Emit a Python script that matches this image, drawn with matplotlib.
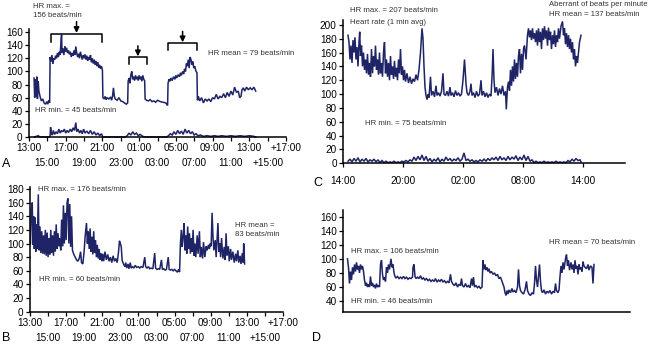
import numpy as np
import matplotlib
matplotlib.use("Agg")
import matplotlib.pyplot as plt

plt.rcParams['font.family'] = ['Liberation Sans', 'DejaVu Sans']

# hours after the first tick; (time, beats/min)
a_hr = [(0.55, 90), (0.62, 60), (0.7, 88), (0.78, 62), (0.85, 92), (0.92, 58), (1.0, 85), (1.08, 70), (1.2, 62),
        (1.35, 55), (1.5, 58), (1.65, 52), (1.8, 50), (1.95, 54), (2.05, 50), (2.15, 56), (2.25, 52),
        (2.3, 122), (2.4, 115), (2.5, 125), (2.6, 112), (2.7, 120), (2.8, 118), (2.9, 124), (3.0, 120),
        (3.1, 128), (3.2, 122), (3.3, 130), (3.4, 125), (3.5, 150), (3.55, 156), (3.6, 128), (3.7, 135),
        (3.8, 125), (3.9, 138), (4.0, 130), (4.1, 136), (4.2, 128), (4.3, 132), (4.4, 126), (4.5, 130),
        (4.6, 122), (4.7, 128), (4.8, 124), (4.9, 132), (5.0, 125), (5.1, 138), (5.2, 128), (5.3, 122),
        (5.4, 127), (5.5, 120), (5.6, 130), (5.7, 124), (5.8, 118), (5.9, 125), (6.0, 120), (6.1, 126),
        (6.2, 118), (6.3, 124), (6.4, 116), (6.5, 122), (6.6, 118), (6.7, 125), (6.8, 114), (6.9, 120),
        (7.0, 112), (7.1, 118), (7.2, 110), (7.3, 116), (7.4, 108), (7.5, 114), (7.6, 106), (7.7, 110),
        (7.8, 104), (7.9, 108), (8.0, 102), (8.05, 60), (8.2, 58), (8.3, 62), (8.4, 57), (8.5, 60), (8.7, 58),
        (8.9, 61), (9.0, 56), (9.1, 62), (9.2, 75), (9.3, 62), (9.4, 58), (9.6, 56), (9.8, 60), (10.0, 55),
        (10.2, 54), (10.4, 52), (10.6, 50), (10.75, 52), (10.8, 85), (10.9, 90), (11.0, 82), (11.1, 95),
        (11.2, 100), (11.3, 88), (11.4, 92), (11.5, 86), (11.6, 94), (11.7, 88), (11.8, 92), (11.9, 86),
        (12.0, 94), (12.1, 88), (12.2, 92), (12.3, 85), (12.4, 94), (12.5, 88), (12.6, 86), (12.65, 58),
        (12.8, 56), (13.0, 55), (13.2, 57), (13.4, 54), (13.6, 55), (13.8, 53), (14.0, 56), (14.3, 54),
        (14.6, 53), (14.9, 52), (15.1, 48), (15.15, 82), (15.25, 88), (15.35, 85), (15.45, 90), (15.6, 86),
        (15.75, 92), (15.9, 88), (16.0, 94), (16.1, 90), (16.25, 95), (16.4, 92), (16.5, 98), (16.6, 94),
        (16.75, 100), (16.85, 96), (16.95, 104), (17.05, 100), (17.15, 112), (17.25, 108), (17.35, 118),
        (17.45, 105), (17.55, 122), (17.65, 118), (17.75, 110), (17.85, 115), (17.95, 105), (18.05, 108),
        (18.2, 100), (18.3, 98), (18.35, 56), (18.45, 62), (18.6, 55), (18.8, 60), (19.0, 52), (19.2, 58),
        (19.4, 55), (19.6, 58), (19.8, 54), (20.0, 60), (20.2, 58), (20.4, 65), (20.6, 58), (20.8, 62),
        (21.0, 60), (21.2, 66), (21.4, 60), (21.6, 68), (21.8, 62), (22.0, 70), (22.2, 64), (22.4, 76),
        (22.6, 68), (22.8, 70), (22.95, 60), (23.1, 62), (23.2, 72), (23.35, 75), (23.5, 70), (23.7, 76),
        (23.9, 72), (24.1, 75), (24.3, 72), (24.5, 76), (24.7, 70)]

a_aberrant = [(0.6, 0), (1.0, 2), (1.2, 0), (2.2, 0), (2.3, 2), (2.35, 15), (2.45, 5), (2.55, 3), (2.65, 10),
              (2.8, 4), (2.95, 8), (3.1, 5), (3.25, 12), (3.4, 6), (3.55, 10), (3.7, 8), (3.85, 12), (4.0, 6),
              (4.15, 10), (4.3, 7), (4.5, 12), (4.65, 8), (4.8, 14), (4.95, 10), (5.1, 22), (5.2, 8), (5.35, 12),
              (5.5, 6), (5.65, 10), (5.8, 5), (5.95, 12), (6.1, 6), (6.3, 9), (6.5, 5), (6.7, 10), (6.9, 4),
              (7.1, 8), (7.3, 3), (7.5, 6), (7.7, 2), (7.9, 5), (8.05, 0), (10.5, 0), (10.7, 2), (10.9, 6),
              (11.1, 3), (11.3, 8), (11.5, 4), (11.7, 6), (11.9, 2), (12.1, 4), (12.4, 1), (12.6, 0), (15.0, 0),
              (15.2, 2), (15.4, 5), (15.6, 3), (15.8, 8), (16.0, 4), (16.2, 10), (16.4, 5), (16.6, 9), (16.8, 4),
              (17.0, 12), (17.2, 6), (17.4, 10), (17.6, 5), (17.8, 8), (18.0, 3), (18.2, 5), (18.4, 2), (18.7, 3),
              (19.0, 1), (19.4, 2), (19.8, 1), (20.2, 2), (20.6, 1), (21.0, 2), (21.5, 1), (22.0, 2), (22.5, 1),
              (23.0, 2), (23.5, 1), (24.0, 2), (24.5, 1), (24.7, 0)]

b_hr = [(0.05, 100), (0.15, 150), (0.25, 160), (0.32, 98), (0.4, 140), (0.48, 92), (0.56, 138), (0.64, 88),
        (0.72, 128), (0.8, 92), (0.92, 172), (1.0, 90), (1.1, 125), (1.2, 86), (1.3, 118), (1.4, 85), (1.5, 112),
        (1.6, 84), (1.7, 120), (1.8, 82), (1.9, 116), (2.0, 80), (2.1, 108), (2.2, 84), (2.3, 120), (2.4, 86),
        (2.5, 112), (2.6, 82), (2.7, 118), (2.8, 88), (2.9, 128), (3.0, 92), (3.1, 115), (3.2, 96), (3.3, 108),
        (3.4, 90), (3.5, 135), (3.6, 96), (3.7, 156), (3.8, 100), (3.9, 145), (4.0, 105), (4.1, 160),
        (4.2, 166), (4.3, 100), (4.4, 158), (4.5, 95), (4.6, 140), (4.7, 90), (4.85, 84), (5.0, 80),
        (5.15, 76), (5.3, 74), (5.45, 78), (5.6, 88), (5.7, 72), (5.85, 70), (6.0, 90), (6.1, 110), (6.25, 130),
        (6.35, 100), (6.45, 118), (6.55, 92), (6.65, 122), (6.75, 88), (6.85, 110), (6.95, 84), (7.05, 118),
        (7.15, 86), (7.25, 105), (7.35, 80), (7.45, 98), (7.55, 78), (7.65, 92), (7.75, 76), (7.85, 86),
        (7.95, 74), (8.05, 85), (8.15, 74), (8.3, 88), (8.45, 76), (8.6, 84), (8.75, 74), (8.9, 80), (9.05, 72),
        (9.2, 82), (9.35, 74), (9.5, 78), (9.65, 72), (9.8, 88), (9.9, 104), (10.0, 100), (10.1, 95),
        (10.2, 75), (10.35, 70), (10.5, 66), (10.6, 72), (10.7, 64), (10.85, 70), (10.95, 63), (11.1, 72),
        (11.2, 64), (11.35, 66), (11.5, 64), (11.65, 68), (11.8, 65), (12.0, 66), (12.15, 64), (12.3, 66),
        (12.5, 65), (12.7, 80), (12.8, 66), (12.95, 64), (13.1, 66), (13.25, 63), (13.4, 64), (13.6, 63),
        (13.8, 86), (13.9, 64), (14.05, 62), (14.2, 63), (14.35, 62), (14.55, 76), (14.65, 62), (14.8, 63),
        (14.95, 61), (15.1, 62), (15.3, 80), (15.4, 62), (15.55, 61), (15.7, 62), (15.85, 60), (16.0, 62),
        (16.15, 60), (16.3, 58), (16.45, 62), (16.55, 58), (16.65, 100), (16.75, 120), (16.85, 95),
        (16.95, 110), (17.05, 130), (17.15, 90), (17.25, 112), (17.35, 85), (17.45, 125), (17.55, 92),
        (17.65, 115), (17.75, 85), (17.85, 108), (17.95, 88), (18.05, 120), (18.15, 82), (18.25, 100),
        (18.35, 80), (18.5, 112), (18.6, 85), (18.75, 118), (18.85, 80), (18.95, 95), (19.1, 78), (19.2, 102),
        (19.35, 80), (19.5, 96), (19.6, 90), (19.75, 98), (19.85, 92), (19.95, 100), (20.05, 96), (20.15, 145),
        (20.25, 110), (20.35, 90), (20.5, 105), (20.6, 80), (20.8, 130), (20.9, 88), (21.0, 100), (21.1, 80),
        (21.2, 108), (21.35, 78), (21.5, 95), (21.6, 76), (21.7, 115), (21.8, 82), (21.95, 96), (22.05, 74),
        (22.2, 92), (22.3, 76), (22.45, 88), (22.6, 72), (22.75, 85), (22.85, 74), (23.0, 90), (23.1, 72),
        (23.25, 82), (23.35, 70), (23.5, 86), (23.6, 72), (23.65, 100), (23.75, 70)]

c_hr = [(0.5, 185), (0.6, 175), (0.7, 150), (0.8, 170), (0.9, 145), (1.0, 178), (1.1, 160), (1.2, 182),
        (1.3, 150), (1.4, 168), (1.5, 140), (1.6, 175), (1.67, 190), (1.75, 155), (1.85, 170), (1.95, 140),
        (2.05, 160), (2.15, 135), (2.25, 150), (2.35, 130), (2.45, 158), (2.55, 128), (2.65, 145), (2.75, 125),
        (2.85, 165), (2.95, 130), (3.05, 155), (3.15, 140), (3.25, 170), (3.35, 135), (3.45, 150), (3.55, 128),
        (3.65, 160), (3.75, 130), (3.85, 145), (3.95, 125), (4.05, 160), (4.15, 175), (4.25, 130), (4.35, 150),
        (4.45, 125), (4.55, 145), (4.65, 120), (4.75, 155), (4.85, 128), (4.95, 140), (5.05, 122), (5.15, 148),
        (5.25, 125), (5.35, 138), (5.45, 120), (5.55, 150), (5.65, 130), (5.75, 165), (5.85, 128), (5.95, 140),
        (6.05, 120), (6.15, 135), (6.25, 118), (6.4, 130), (6.55, 116), (6.7, 125), (6.85, 115), (7.0, 122),
        (7.15, 118), (7.3, 128), (7.45, 120), (7.6, 135), (7.75, 160), (7.9, 195), (8.0, 180), (8.1, 140),
        (8.2, 110), (8.3, 98), (8.4, 92), (8.5, 100), (8.6, 95), (8.75, 125), (8.85, 98), (9.0, 104), (9.15, 96),
        (9.3, 112), (9.4, 98), (9.55, 102), (9.7, 97), (9.85, 104), (10.0, 130), (10.1, 100), (10.25, 98),
        (10.4, 104), (10.55, 97), (10.7, 110), (10.8, 98), (10.95, 102), (11.1, 96), (11.25, 105), (11.4, 98),
        (11.55, 102), (11.7, 97), (11.85, 100), (12.0, 120), (12.15, 150), (12.3, 115), (12.4, 102),
        (12.55, 98), (12.7, 104), (12.8, 115), (12.9, 98), (13.05, 102), (13.2, 95), (13.35, 104), (13.5, 97),
        (13.65, 100), (13.8, 120), (13.9, 98), (14.05, 104), (14.2, 96), (14.35, 102), (14.5, 95), (14.65, 100),
        (14.8, 97), (14.92, 130), (15.0, 165), (15.1, 120), (15.2, 102), (15.35, 110), (15.5, 98), (15.65, 108),
        (15.8, 100), (15.95, 112), (16.1, 98), (16.25, 104), (16.33, 78), (16.45, 110), (16.55, 118),
        (16.65, 105), (16.75, 135), (16.85, 112), (16.95, 140), (17.05, 118), (17.15, 150), (17.25, 122),
        (17.35, 145), (17.45, 125), (17.55, 155), (17.65, 165), (17.75, 130), (17.85, 158), (17.95, 135),
        (18.05, 165), (18.15, 170), (18.3, 150), (18.45, 185), (18.55, 195), (18.65, 182), (18.75, 192),
        (18.85, 178), (18.95, 195), (19.05, 180), (19.15, 188), (19.25, 175), (19.35, 192), (19.45, 170),
        (19.55, 195), (19.65, 175), (19.75, 190), (19.85, 165), (19.95, 195), (20.05, 178), (20.15, 198),
        (20.25, 180), (20.35, 192), (20.45, 170), (20.55, 196), (20.65, 178), (20.75, 190), (20.85, 165),
        (20.95, 185), (21.05, 172), (21.15, 192), (21.25, 168), (21.35, 185), (21.45, 175), (21.55, 195),
        (21.65, 180), (21.8, 198), (21.95, 205), (22.05, 185), (22.15, 195), (22.25, 172), (22.35, 188),
        (22.45, 168), (22.55, 185), (22.65, 165), (22.75, 180), (22.85, 160), (22.95, 175), (23.05, 150),
        (23.15, 165), (23.25, 140), (23.35, 155), (23.45, 145), (23.55, 160), (23.65, 175), (23.8, 185)]

c_aberrant = [(0.5, 3), (0.7, 6), (0.9, 2), (1.1, 7), (1.3, 3), (1.5, 8), (1.7, 2), (1.9, 6), (2.1, 3), (2.3, 7),
              (2.5, 2), (2.7, 5), (2.9, 3), (3.1, 6), (3.3, 2), (3.5, 5), (3.7, 1), (3.9, 4), (4.1, 1), (4.3, 3),
              (4.5, 1), (4.7, 2), (4.9, 1), (5.1, 3), (5.3, 1), (5.5, 2), (5.7, 1), (5.9, 3), (6.1, 2), (6.3, 4),
              (6.5, 2), (6.7, 5), (6.9, 3), (7.1, 9), (7.3, 4), (7.5, 10), (7.7, 5), (7.9, 12), (8.1, 4), (8.3, 10),
              (8.5, 3), (8.7, 7), (8.9, 2), (9.1, 6), (9.3, 3), (9.5, 8), (9.7, 2), (9.9, 6), (10.1, 3), (10.3, 9),
              (10.5, 4), (10.7, 7), (10.9, 3), (11.1, 6), (11.3, 4), (11.5, 8), (11.7, 3), (11.9, 6), (12.1, 15),
              (12.3, 4), (12.5, 6), (12.7, 3), (12.9, 5), (13.1, 2), (13.3, 4), (13.5, 2), (13.7, 5), (13.9, 3),
              (14.1, 6), (14.3, 3), (14.5, 7), (14.7, 4), (14.9, 8), (15.1, 5), (15.3, 9), (15.5, 4), (15.7, 10),
              (15.9, 5), (16.1, 8), (16.3, 4), (16.5, 10), (16.7, 5), (16.9, 9), (17.1, 6), (17.3, 11), (17.5, 4),
              (17.7, 9), (17.9, 5), (18.1, 12), (18.3, 4), (18.5, 10), (18.7, 3), (18.9, 5), (19.1, 1), (19.3, 3),
              (19.5, 1), (19.7, 2), (19.9, 1), (20.1, 3), (20.3, 1), (20.5, 2), (20.7, 1), (20.9, 2), (21.1, 1),
              (21.3, 3), (21.5, 1), (21.7, 2), (21.9, 1), (22.1, 2), (22.3, 1), (22.5, 4), (22.7, 2), (22.9, 6),
              (23.1, 3), (23.3, 7), (23.5, 4), (23.7, 5), (23.8, 2)]

d_hr = [(0.45, 100), (0.55, 88), (0.65, 65), (0.75, 82), (0.85, 70), (0.95, 88), (1.05, 78), (1.15, 92),
        (1.25, 82), (1.35, 95), (1.45, 85), (1.55, 90), (1.65, 80), (1.75, 92), (1.85, 85), (1.95, 90),
        (2.05, 82), (2.15, 70), (2.25, 62), (2.35, 66), (2.45, 60), (2.55, 64), (2.65, 60), (2.75, 75),
        (2.85, 62), (2.95, 66), (3.05, 60), (3.15, 63), (3.25, 58), (3.35, 65), (3.45, 60), (3.55, 62),
        (3.65, 60), (3.75, 92), (3.85, 98), (3.95, 78), (4.05, 70), (4.15, 74), (4.25, 68), (4.35, 88),
        (4.45, 80), (4.55, 92), (4.65, 85), (4.8, 100), (4.9, 88), (5.0, 92), (5.1, 80), (5.2, 75), (5.3, 73),
        (5.45, 75), (5.6, 72), (5.75, 74), (5.9, 72), (6.05, 75), (6.2, 72), (6.35, 74), (6.5, 71), (6.65, 73),
        (6.8, 72), (6.95, 74), (7.0, 88), (7.1, 92), (7.2, 75), (7.3, 72), (7.45, 74), (7.6, 72), (7.75, 76),
        (7.9, 71), (8.05, 73), (8.2, 70), (8.35, 72), (8.5, 69), (8.65, 71), (8.8, 68), (8.95, 70), (9.1, 68),
        (9.25, 72), (9.4, 67), (9.55, 70), (9.7, 68), (9.85, 71), (10.0, 67), (10.15, 69), (10.3, 66),
        (10.45, 68), (10.6, 66), (10.75, 78), (10.85, 68), (11.0, 64), (11.15, 62), (11.3, 66), (11.45, 60),
        (11.6, 64), (11.75, 62), (11.85, 72), (11.95, 62), (12.1, 60), (12.25, 65), (12.4, 60), (12.55, 62),
        (12.7, 59), (12.85, 72), (12.95, 62), (13.05, 74), (13.15, 60), (13.3, 62), (13.45, 59), (13.6, 61),
        (13.75, 58), (13.9, 60), (14.0, 98), (14.1, 85), (14.2, 92), (14.3, 84), (14.4, 88), (14.5, 82),
        (14.6, 86), (14.7, 80), (14.85, 82), (15.0, 78), (15.15, 80), (15.3, 76), (15.45, 78), (15.6, 72),
        (15.75, 74), (15.9, 68), (16.0, 64), (16.1, 60), (16.2, 52), (16.3, 48), (16.4, 55), (16.5, 50),
        (16.6, 56), (16.75, 52), (16.9, 58), (17.0, 53), (17.15, 55), (17.3, 52), (17.45, 60), (17.55, 85),
        (17.65, 62), (17.75, 55), (17.9, 52), (18.05, 50), (18.2, 56), (18.35, 68), (18.45, 55), (18.6, 50),
        (18.75, 48), (18.9, 52), (19.05, 50), (19.15, 65), (19.25, 90), (19.35, 70), (19.45, 60), (19.55, 75),
        (19.65, 92), (19.75, 68), (19.85, 55), (19.95, 52), (20.1, 56), (20.25, 50), (20.4, 54), (20.55, 52),
        (20.7, 55), (20.85, 50), (21.0, 54), (21.15, 52), (21.25, 65), (21.35, 55), (21.5, 52), (21.6, 56),
        (21.7, 75), (21.8, 90), (21.9, 80), (22.0, 95), (22.1, 85), (22.25, 100), (22.35, 106), (22.45, 90),
        (22.55, 98), (22.65, 84), (22.8, 95), (22.9, 85), (23.0, 92), (23.1, 80), (23.2, 98), (23.3, 86),
        (23.4, 90), (23.5, 78), (23.6, 92), (23.7, 85), (23.8, 88), (23.9, 82), (24.0, 96), (24.1, 90),
        (24.2, 88), (24.35, 86), (24.5, 92), (24.6, 84), (24.75, 90), (24.9, 88), (25.0, 65), (25.1, 92)]

ab_ticks = list(range(0, 29, 2))
ab_tick_labels = ['13:00', '15:00', '17:00', '19:00', '21:00', '23:00', '01:00', '03:00',
                  '05:00', '07:00', '09:00', '11:00', '13:00', '+15:00', '+17:00']
c_ticks = [0, 6, 12, 18, 24]
c_tick_labels = ['14:00', '20:00', '02:00', '08:00', '14:00']

# brackets over the panel A trace: (start, end, top, leg bottom, arrow tail)
a_brackets = [(2.36, 8.0, 157.6, 145, 176), (10.87, 12.86, 122, 112, 139), (15.14, 18.33, 143.4, 132, 161)]

LINE = '#1f2466'
TXT = '#333333'
FS_TICK = 7.2
FS_NOTE = 5.6


def style_axis(ax):
    for s in ['top', 'right']:
        ax.spines[s].set_visible(False)
    for s in ['left', 'bottom']:
        ax.spines[s].set_linewidth(1.1)
    ax.tick_params(which='both', direction='out', length=3, width=0.9, labelsize=FS_TICK, pad=1.5)


def two_row_time_axis(ax):
    # labels alternate between an upper and a lower row
    ax.set_xticks(ab_ticks[0::2])
    ax.set_xticklabels(ab_tick_labels[0::2])
    ax.set_xticks(ab_ticks[1::2], minor=True)
    ax.set_xticklabels(ab_tick_labels[1::2], minor=True)
    style_axis(ax)
    ax.tick_params(axis='x', which='minor', pad=12.3)


def draw(ax, pairs, lw=1.1):
    arr = np.array(pairs, dtype=float).T
    ax.plot(arr[0], arr[1], color=LINE, lw=lw, solid_joinstyle='miter', clip_on=False)


def note(ax, x, y, s, **kw):
    ax.text(x, y, s, fontsize=FS_NOTE, color=TXT, ha='left', va='center', clip_on=False, **kw)


fig = plt.figure(figsize=(6.5, 3.45), dpi=100)

# ---------------- A
ax_a = fig.add_axes([29 / 650, 1 - 137 / 345, 257 / 650, 108.2 / 345])
draw(ax_a, a_hr)
draw(ax_a, a_aberrant)
ax_a.set_xlim(0, 28)
ax_a.set_ylim(0, 165)
ax_a.set_yticks(range(0, 161, 20))
two_row_time_axis(ax_a)
for x0, x1, top, leg, tail in a_brackets:
    ax_a.plot([x0, x0, x1, x1], [leg, top, top, leg], color='black', lw=1.1, clip_on=False)
    xm = (x0 + x1) / 2
    ax_a.annotate('', xy=(xm, top + 1), xytext=(xm, tail), annotation_clip=False,
                  arrowprops=dict(arrowstyle='-|>', color='black', lw=1.1, mutation_scale=8, shrinkA=0, shrinkB=0))
note(ax_a, 0.45, 192, 'HR max. =\n156 beats/min', linespacing=1.3)
note(ax_a, 19.5, 127, 'HR mean = 79 beats/min')
note(ax_a, 0.65, 40, 'HR min. = 45 beats/min')

# ---------------- B
ax_b = fig.add_axes([30 / 650, 1 - 311.7 / 345, 253 / 650, 124.8 / 345])
draw(ax_b, b_hr)
ax_b.set_xlim(0, 28)
ax_b.set_ylim(0, 183)
ax_b.set_yticks(range(0, 181, 20))
two_row_time_axis(ax_b)
note(ax_b, 0.92, 178.6, 'HR max. = 176 beats/min')
note(ax_b, 22.7, 120, 'HR mean =\n83 beats/min', linespacing=1.3)
note(ax_b, 1.0, 47.5, 'HR min. = 60 beats/min')

# ---------------- C
ax_c = fig.add_axes([343 / 650, 1 - 163.3 / 345, 282 / 650, 143.3 / 345])
draw(ax_c, c_hr)
draw(ax_c, c_aberrant)
ax_c.set_xlim(0, 28.2)
ax_c.set_ylim(0, 207)
ax_c.set_yticks(range(0, 201, 20))
ax_c.set_xticks(c_ticks)
ax_c.set_xticklabels(c_tick_labels)
style_axis(ax_c)
ax_c.tick_params(axis='x', pad=6)
note(ax_c, 0.67, 220.7, 'HR max. = 207 beats/min')
note(ax_c, 0.67, 203.4, 'Heart rate (1 min avg)')
note(ax_c, 2.23, 57, 'HR min. = 75 beats/min')
note(ax_c, 20.57, 229, 'Aberrant of beats per minute')
note(ax_c, 20.57, 214.5, 'HR mean = 137 beats/min')

# ---------------- D
ax_d = fig.add_axes([343 / 650, 1 - 311.7 / 345, 287 / 650, 101.5 / 345])
draw(ax_d, d_hr)
ax_d.set_xlim(0, 28.7)
ax_d.set_ylim(25, 169)
ax_d.set_yticks(range(40, 161, 20))
ax_d.set_xticks([])
style_axis(ax_d)
note(ax_d, 0.77, 110, 'HR max. = 106 beats/min')
note(ax_d, 0.77, 39, 'HR min. = 46 beats/min')
note(ax_d, 20.57, 122.7, 'HR mean = 70 beats/min')

# panel letters
for lx, ly, lab in [(2, 167, 'A'), (2, 341, 'B'), (313, 186, 'C'), (312, 341, 'D')]:
    fig.text(lx / 650, 1 - ly / 345, lab, fontsize=9, color='black', ha='left', va='baseline')

fig.savefig('out.png', dpi=100)
